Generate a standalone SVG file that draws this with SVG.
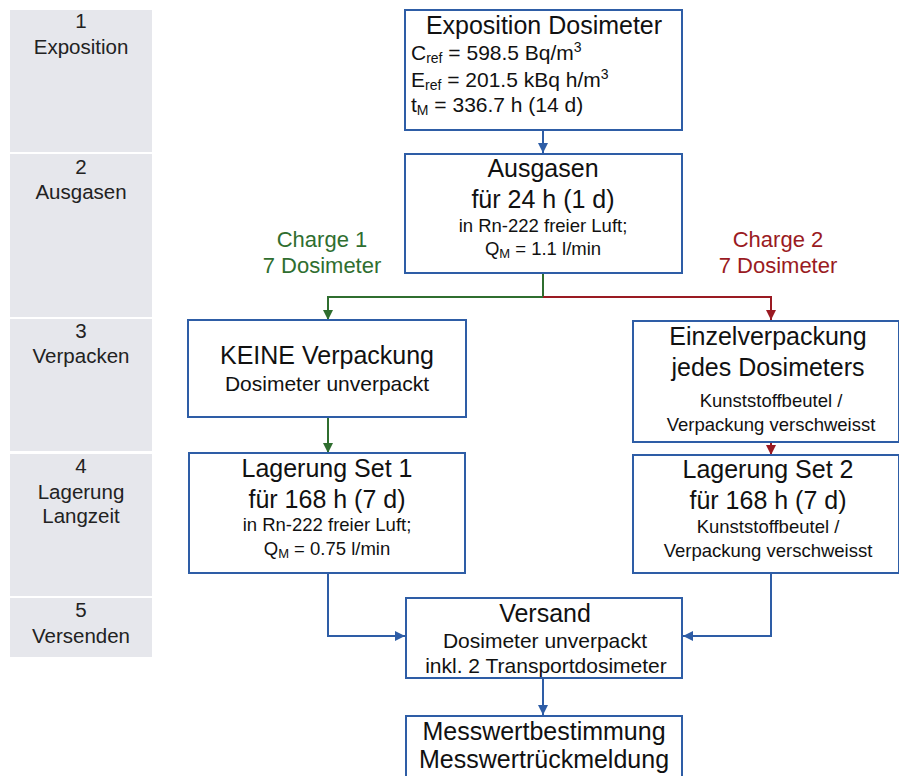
<svg xmlns="http://www.w3.org/2000/svg" width="899" height="776" viewBox="0 0 899 776">
<defs>
<style>
text{font-family:"Liberation Sans",Arial,sans-serif;fill:#111;}
.side{fill:#e6e7ec;}
.st{font-size:20.5px;text-anchor:middle;fill:#222;}
.box{fill:#fff;stroke:#2e5da6;stroke-width:2;}
.big{font-size:25px;text-anchor:middle;}
.mid{font-size:21px;}
.sm{font-size:18.5px;text-anchor:middle;}
.md{font-size:21px;text-anchor:middle;}
.ch{font-size:22px;text-anchor:middle;}
.blue{stroke:#2e5da6;stroke-width:2;fill:none;}
.green{stroke:#2f6e2f;stroke-width:2;fill:none;}
.red{stroke:#9a1a22;stroke-width:2;fill:none;}
</style>
<marker id="ab" viewBox="0 0 10 10" refX="10" refY="5" markerWidth="5" markerHeight="5" orient="auto"><path d="M0,0L10,5L0,10z" fill="#2e5da6"/></marker>
<marker id="ag" viewBox="0 0 10 10" refX="10" refY="5" markerWidth="5" markerHeight="5" orient="auto"><path d="M0,0L10,5L0,10z" fill="#2f6e2f"/></marker>
<marker id="ar" viewBox="0 0 10 10" refX="10" refY="5" markerWidth="5" markerHeight="5" orient="auto"><path d="M0,0L10,5L0,10z" fill="#9a1a22"/></marker>
</defs>
<rect width="899" height="776" fill="#fff"/>
<g id="sidebar">
<rect class="side" x="10" y="10" width="142" height="142"/>
<text class="st" x="81" y="28">1</text><text class="st" x="81" y="54">Exposition</text>
<rect class="side" x="10" y="154" width="142" height="163"/>
<text class="st" x="81" y="174">2</text><text class="st" x="81" y="199">Ausgasen</text>
<rect class="side" x="10" y="319" width="142" height="132"/>
<text class="st" x="81" y="338">3</text><text class="st" x="81" y="363">Verpacken</text>
<rect class="side" x="10" y="454" width="142" height="142"/>
<text class="st" x="81" y="473">4</text><text class="st" x="81" y="499">Lagerung</text><text class="st" x="81" y="523">Langzeit</text>
<rect class="side" x="10" y="598" width="142" height="59"/>
<text class="st" x="81" y="617">5</text><text class="st" x="81" y="643">Versenden</text>
</g>
<g id="connectors">
<line class="blue" x1="543" y1="130" x2="543" y2="153" marker-end="url(#ab)"/>
<polyline class="green" points="543,273 543,297 328,297 328,320" marker-end="url(#ag)"/>
<polyline class="red" points="543,297 771,297 771,320" marker-end="url(#ar)"/>
<line class="green" x1="328" y1="417" x2="328" y2="453" marker-end="url(#ag)"/>
<line class="red" x1="771" y1="442" x2="771" y2="455" marker-end="url(#ar)"/>
<polyline class="blue" points="328,573 328,636 405,636" marker-end="url(#ab)"/>
<polyline class="blue" points="771,573 771,636 683,636" marker-end="url(#ab)"/>
<line class="blue" x1="543" y1="678" x2="543" y2="715" marker-end="url(#ab)"/>
<text x="322" y="247" class="ch" style="fill:#2f6e2f">Charge 1</text>
<text x="322" y="273" class="ch" style="fill:#2f6e2f">7 Dosimeter</text>
<text x="778" y="247" class="ch" style="fill:#9a1a22">Charge 2</text>
<text x="778" y="273" class="ch" style="fill:#9a1a22">7 Dosimeter</text>
</g>
<g id="n1">
<rect class="box" x="405" y="10" width="277" height="120"/>
<text class="big" x="544" y="34">Exposition Dosimeter</text>
<text class="mid" x="411" y="60">C<tspan font-size="14" dy="3">ref</tspan><tspan dy="-3"> = 598.5 Bq/m</tspan><tspan font-size="14" dy="-8">3</tspan></text>
<text class="mid" x="411" y="87">E<tspan font-size="14" dy="3">ref</tspan><tspan dy="-3"> = 201.5 kBq h/m</tspan><tspan font-size="14" dy="-8">3</tspan></text>
<text class="mid" x="411" y="112">t<tspan font-size="14" dy="3">M</tspan><tspan dy="-3"> = 336.7 h (14 d)</tspan></text>
</g>
<g id="n2">
<rect class="box" x="405" y="154" width="277" height="119"/>
<text class="big" x="543" y="177">Ausgasen</text>
<text class="big" x="543" y="208">für 24 h (1 d)</text>
<text class="sm" x="543" y="232">in Rn-222 freier Luft;</text>
<text class="sm" x="543" y="255">Q<tspan font-size="13" dy="3">M</tspan><tspan dy="-3"> = 1.1 l/min</tspan></text>
</g>
<g id="n3a">
<rect class="box" x="188" y="320" width="278" height="97"/>
<text class="big" x="327" y="364">KEINE Verpackung</text>
<text class="md" x="327" y="391">Dosimeter unverpackt</text>
</g>
<g id="n3b">
<rect class="box" x="633" y="321" width="266" height="121"/>
<text class="big" x="768" y="345">Einzelverpackung</text>
<text class="big" x="768" y="376">jedes Dosimeters</text>
<text class="sm" x="771" y="407">Kunststoffbeutel /</text>
<text class="sm" x="771" y="431">Verpackung verschweisst</text>
</g>
<g id="n4a">
<rect class="box" x="189" y="453" width="276" height="120"/>
<text class="big" x="327" y="477">Lagerung Set 1</text>
<text class="big" x="327" y="508">für 168 h (7 d)</text>
<text class="sm" x="327" y="531">in Rn-222 freier Luft;</text>
<text class="sm" x="327" y="555">Q<tspan font-size="13" dy="3">M</tspan><tspan dy="-3"> = 0.75 l/min</tspan></text>
</g>
<g id="n4b">
<rect class="box" x="633" y="455" width="266" height="118"/>
<text class="big" x="768" y="478">Lagerung Set 2</text>
<text class="big" x="768" y="509">für 168 h (7 d)</text>
<text class="sm" x="768" y="533">Kunststoffbeutel /</text>
<text class="sm" x="768" y="557">Verpackung verschweisst</text>
</g>
<g id="n5">
<rect class="box" x="406" y="598" width="276" height="80"/>
<text class="big" x="545" y="622">Versand</text>
<text class="md" x="545" y="648">Dosimeter unverpackt</text>
<text class="md" x="546" y="673">inkl. 2 Transportdosimeter</text>
</g>
<g id="n6">
<rect class="box" x="406" y="716" width="276" height="70"/>
<text class="big" x="544" y="740">Messwertbestimmung</text>
<text class="big" x="544" y="768">Messwertrückmeldung</text>
</g>
</svg>
